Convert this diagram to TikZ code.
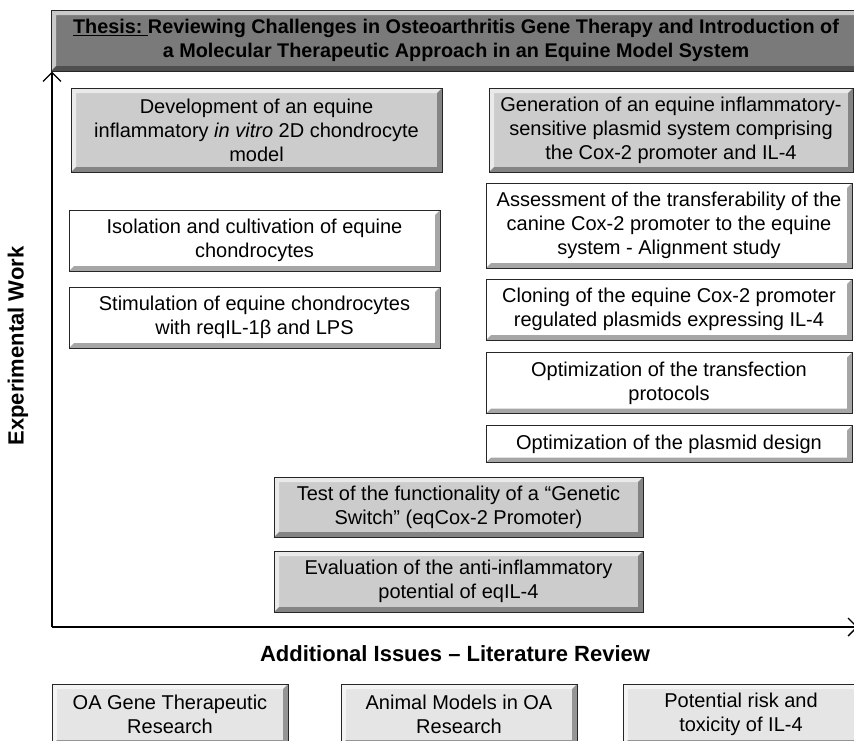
\documentclass[tikz,border=0pt]{standalone}
\usepackage{fontspec}
\setmainfont{Liberation Sans}
\usetikzlibrary{arrows.meta}

\def\bevelSize{5pt}
\tikzset{
  % light strip top/left, dark strip bottom/right
  bevel/.style={path picture={
    \fill[white, opacity=0.6] (path picture bounding box.north west) -- (path picture bounding box.north east)
      -- ([shift={(-\bevelSize,-\bevelSize)}]path picture bounding box.north east)
      -- ([shift={(\bevelSize,-\bevelSize)}]path picture bounding box.north west)
      -- ([shift={(\bevelSize,\bevelSize)}]path picture bounding box.south west)
      -- (path picture bounding box.south west) -- cycle;
    \fill[black, opacity=0.35] (path picture bounding box.south east) -- (path picture bounding box.south west)
      -- ([shift={(\bevelSize,\bevelSize)}]path picture bounding box.south west)
      -- ([shift={(-\bevelSize,\bevelSize)}]path picture bounding box.south east)
      -- ([shift={(-\bevelSize,-\bevelSize)}]path picture bounding box.north east)
      -- (path picture bounding box.north east) -- cycle;
  }},
  plainBox/.style={draw=black!85, line width=1pt, fill=white, bevel, align=center, inner sep=0pt,
    font=\fontsize{20}{24}\selectfont},
  grayBox/.style={plainBox, fill=black!20},
  lightBox/.style={plainBox, fill=black!10},
  darkBox/.style={plainBox, fill=black!52, font=\bfseries\fontsize{19.8}{24}\selectfont},
  leftCol/.style={minimum width=371pt},
  rightCol/.style={minimum width=366pt},
  midCol/.style={minimum width=369pt},
  lowCol/.style={minimum width=236pt, minimum height=61pt},
  axisLine/.style={line width=2.4pt, -{Straight Barb[length=9pt,width=18pt,line width=1.4pt]}},
  bigLabel/.style={font=\bfseries\fontsize{22}{26}\selectfont}
}

\begin{document}
\begin{tikzpicture}[x=1pt, y=-1pt]
  \useasboundingbox (0,0) rectangle (854,740);

  %%% title %%%
  \node[darkBox, minimum width=810pt, minimum height=61pt] (titleBox) at (456,40.5)
    {\underline{Thesis:\ }Reviewing Challenges in Osteoarthritis Gene Therapy and Introduction of\\
     a Molecular Therapeutic Approach in an Equine Model System};

  %%% axes %%%
  \coordinate (origin) at (52,627);
  \coordinate (xEnd) at (858,627);
  \draw[axisLine] (origin) -- (origin |- titleBox.south);
  \draw[axisLine] (origin) -- (xEnd);
  \node[bigLabel, rotate=90] (workLabel) at (18,346) {Experimental Work};

  %%% left column %%%
  \node[grayBox, leftCol, minimum height=84pt] (develBox) at (256.5,130)
    {Development of an equine\\ inflammatory \emph{in vitro} 2D chondrocyte\\ model};
  \node[plainBox, leftCol, minimum height=61pt] (isoBox) at (254.5,240.5)
    {Isolation and cultivation of equine\\ chondrocytes};
  \node[plainBox, leftCol, minimum height=61pt] (stimBox) at (254.5,317.5)
    {Stimulation of equine chondrocytes\\ with reqIL-1β and LPS};

  %%% right column %%%
  \node[grayBox, minimum width=364pt, minimum height=84pt] (genBox) at (671,130)
    {Generation of an equine inflammatory-\\ sensitive plasmid system comprising\\ the Cox-2 promoter and IL-4};
  \node[plainBox, rightCol, minimum height=85pt] (assessBox) at (669,225.5)
    {Assessment of the transferability of the\\ canine Cox-2 promoter to the equine\\ system - Alignment study};
  \node[plainBox, rightCol, minimum height=61pt] (cloneBox) at (669,309.5)
    {Cloning of the equine Cox-2 promoter\\ regulated plasmids expressing IL-4};
  \node[plainBox, rightCol, minimum height=61pt] (transBox) at (669,383)
    {Optimization of the transfection\\ protocols};
  \node[plainBox, rightCol, minimum height=37pt] (designBox) at (669,444)
    {Optimization of the plasmid design};

  %%% middle %%%
  \node[grayBox, midCol, minimum height=60pt] (testBox) at (458.5,507)
    {Test of the functionality of a “Genetic\\ Switch” (eqCox-2 Promoter)};
  \node[grayBox, midCol, minimum height=61pt] (evalBox) at (458.5,581.5)
    {Evaluation of the anti-inflammatory\\ potential of eqIL-4};

  %%% literature review %%%
  \node[bigLabel] (litLabel) at (455,654) {Additional Issues – Literature Review};
  \node[lightBox, lowCol] (oaBox) at (170,714.5) {OA Gene Therapeutic\\ Research};
  \node[lightBox, lowCol] (animalBox) at (459,714.5) {Animal Models in OA\\ Research};
  \node[lightBox, lowCol] (riskBox) at (741,714.5) {Potential risk and\\ toxicity of IL-4};
\end{tikzpicture}
\end{document}
